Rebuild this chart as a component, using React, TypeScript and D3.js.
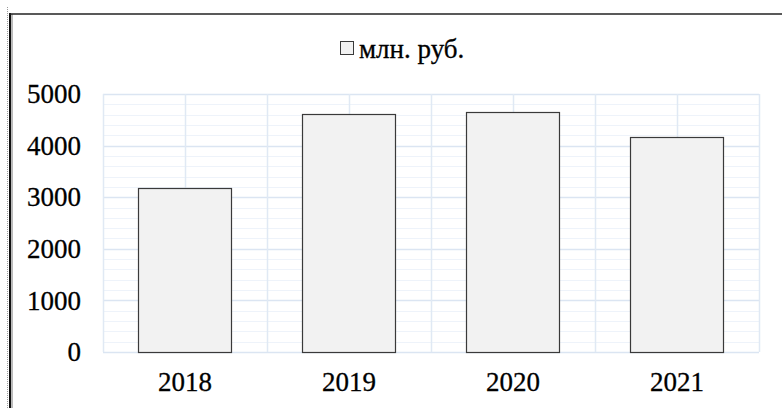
import { useEffect, useRef } from "react";
import * as d3 from "d3";

const YEARS = ["2018", "2019", "2020", "2021"];
const VALUES = [3170, 4610, 4650, 4160];
const Y_TICKS = [0, 1000, 2000, 3000, 4000, 5000];
const LEGEND_LABEL = "млн. руб.";

const W = 782;
const H = 408;
const FONT = "Liberation Serif, Times New Roman, serif";
const FS = 27;

export default function App() {
  const svgRef = useRef<SVGSVGElement>(null);

  useEffect(() => {
    if (!svgRef.current) return;
    const svg = d3.select(svgRef.current);
    svg.selectAll("*").remove();

    const plot = { left: 103, right: 759, top: 94, bottom: 352 };

    // frame
    svg.append("line")
      .attr("x1", 7.5).attr("x2", 7.5).attr("y1", 7).attr("y2", H)
      .attr("stroke", "#9a9a9a").attr("stroke-width", 1).attr("stroke-dasharray", "1,1");
    svg.append("line")
      .attr("x1", 10).attr("x2", 10).attr("y1", 13).attr("y2", H)
      .attr("stroke", "#111").attr("stroke-width", 2);
    svg.append("line")
      .attr("x1", 12).attr("x2", 12).attr("y1", 14).attr("y2", H)
      .attr("stroke", "#777").attr("stroke-width", 1);
    svg.append("line")
      .attr("x1", 9).attr("x2", W).attr("y1", 14).attr("y2", 14)
      .attr("stroke", "#222").attr("stroke-width", 1.5);

    const x = d3.scaleBand<string>().domain(YEARS).range([plot.left, plot.right]).paddingInner(0.43).paddingOuter(0.215);
    const xCat = d3.scaleBand<string>().domain(YEARS).range([plot.left, plot.right]);
    const y = d3.scaleLinear().domain([0, 5000]).range([plot.bottom, plot.top]);

    // horizontal grid, minor every 200
    const g = svg.append("g");
    d3.range(0, 5001, 200).forEach((v) => {
      const major = v % 1000 === 0;
      g.append("line")
        .attr("x1", plot.left).attr("x2", plot.right)
        .attr("y1", Math.round(y(v)) + 0.5).attr("y2", Math.round(y(v)) + 0.5)
        .attr("stroke", major ? "#dbe5f2" : "#eef3fa")
        .attr("stroke-width", major ? 1.5 : 1);
    });
    // vertical grid: category edges and centres
    const vx: number[] = [];
    YEARS.forEach((yr) => {
      vx.push(xCat(yr)!);
      vx.push(xCat(yr)! + xCat.bandwidth() / 2);
    });
    vx.push(plot.right);
    vx.forEach((px) => {
      g.append("line")
        .attr("x1", Math.round(px) + 0.5).attr("x2", Math.round(px) + 0.5)
        .attr("y1", plot.top).attr("y2", plot.bottom)
        .attr("stroke", "#e0e9f4").attr("stroke-width", 1.5);
    });

    // bars
    svg.append("g").selectAll("rect")
      .data(VALUES)
      .join("rect")
      .attr("x", (_, i) => Math.round(x(YEARS[i])!) + 0.5)
      .attr("y", (d) => Math.round(y(d)) + 0.5)
      .attr("width", Math.round(x.bandwidth()))
      .attr("height", (d) => Math.round(y(0)) - Math.round(y(d)))
      .attr("fill", "#f2f2f2")
      .attr("stroke", "#3a3a3a")
      .attr("stroke-width", 1.2);

    const textStyle = (sel: d3.Selection<any, any, any, any>) =>
      sel.attr("font-family", FONT)
        .attr("font-size", FS)
        .attr("fill", "#000")
        .attr("stroke", "#000")
        .attr("stroke-width", 0.3);

    // y labels
    svg.append("g").selectAll("text")
      .data(Y_TICKS)
      .join("text")
      .attr("x", 81)
      .attr("y", (d) => y(d))
      .attr("dy", "0.34em")
      .attr("text-anchor", "end")
      .call(textStyle)
      .text((d) => String(d));

    // x labels
    svg.append("g").selectAll("text")
      .data(YEARS)
      .join("text")
      .attr("x", (d) => xCat(d)! + xCat.bandwidth() / 2)
      .attr("y", 382)
      .attr("dy", "0.34em")
      .attr("text-anchor", "middle")
      .call(textStyle)
      .text((d) => d);

    // legend
    svg.append("rect")
      .attr("x", 340.5).attr("y", 41.5).attr("width", 13).attr("height", 13)
      .attr("fill", "#f2f2f2").attr("stroke", "#3a3a3a").attr("stroke-width", 1);
    svg.append("text")
      .attr("x", 359).attr("y", 49)
      .attr("dy", "0.34em")
      .call(textStyle)
      .text(LEGEND_LABEL);
  }, []);

  return (
    <svg
      ref={svgRef}
      width={W}
      height={H}
      style={{ position: "absolute", left: 0, top: 0, background: "#fff" }}
    />
  );
}
